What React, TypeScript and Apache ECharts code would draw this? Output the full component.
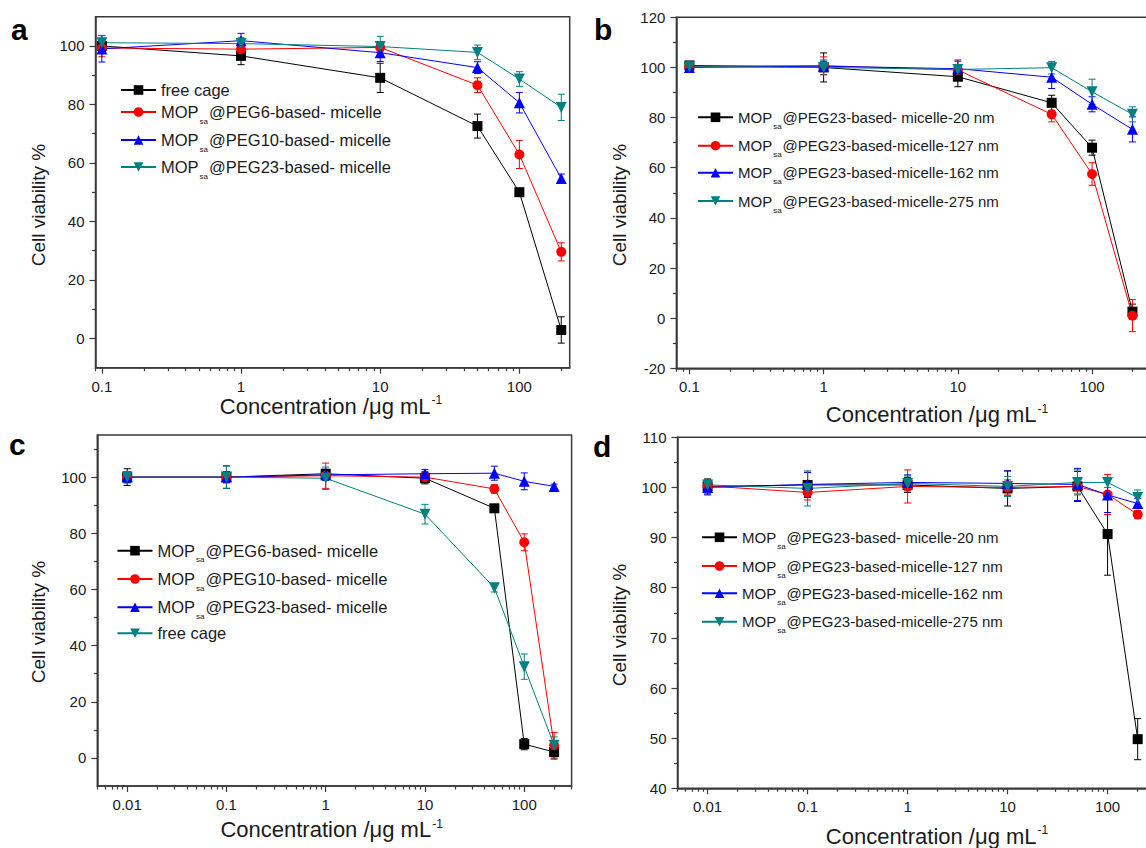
import React, { useEffect, useRef } from 'react';
import * as echarts from 'echarts';

const FONT = '"Liberation Sans", Arial, Helvetica, sans-serif';
const TXT = '#1a1a1a';
const AXIS = '#3a3a3a';

// Concentration steps, μg mL-1
const concAB = [0.1, 1, 10, 50, 100, 200];
const concCD = [0.01, 0.1, 1, 10, 50, 100, 200];

// Panel a
const namesA = ['free cage', 'MOPsa@PEG6-based- micelle', 'MOPsa@PEG10-based- micelle', 'MOPsa@PEG23-based- micelle'];
const aFreeCage = [100.0, 96.6, 89.1, 72.6, 50.0, 2.9];
const aFreeCageErr = [2.5, 3.0, 5.0, 4.1, 1.0, 4.5];
const aPeg6 = [99.3, 98.9, 99.5, 86.6, 62.9, 29.6];
const aPeg6Err = [3.0, 2.0, 1.5, 2.5, 4.8, 3.1];
const aPeg10 = [99.0, 101.8, 97.7, 92.6, 80.6, 54.7];
const aPeg10Err = [4.5, 2.5, 3.0, 2.0, 3.5, 1.5];
const aPeg23 = [101.1, 100.8, 99.8, 97.8, 88.7, 79.0];
const aPeg23Err = [2.5, 2.0, 3.5, 2.5, 2.5, 4.5];

// Panel b
const namesB = ['MOPsa@PEG23-based- micelle-20 nm', 'MOPsa@PEG23-based-micelle-127 nm', 'MOPsa@PEG23-based-micelle-162 nm', 'MOPsa@PEG23-based-micelle-275 nm'];
const b20 = [100.8, 100.0, 96.3, 85.9, 68.0, 2.6];
const b20Err = [1.0, 5.8, 4.0, 3.0, 3.0, 3.0];
const b127 = [100.5, 100.7, 99.0, 81.3, 57.5, 1.0];
const b127Err = [1.0, 3.5, 4.0, 3.0, 4.5, 6.4];
const b162 = [100.0, 100.5, 99.5, 96.1, 85.3, 75.3];
const b162Err = [2.0, 2.0, 3.0, 4.5, 3.0, 5.0];
const b275 = [100.3, 100.0, 99.2, 99.9, 90.3, 81.3];
const b275Err = [1.5, 3.0, 2.0, 2.5, 5.0, 3.0];

// Panel c
const namesC = ['MOPsa@PEG6-based- micelle', 'MOPsa@PEG10-based- micelle', 'MOPsa@PEG23-based- micelle', 'free cage'];
const cPeg6 = [100.0, 100.0, 101.2, 99.6, 88.9, 4.9, 2.1];
const cPeg6Err = [3.0, 4.0, 1.5, 2.0, 1.0, 2.0, 2.5];
const cPeg10 = [100.0, 100.0, 100.5, 100.0, 95.8, 76.8, 4.5];
const cPeg10Err = [2.0, 2.0, 4.5, 2.0, 1.5, 3.0, 4.5];
const cPeg23 = [100.0, 100.0, 100.8, 101.2, 101.4, 98.5, 96.7];
const cPeg23Err = [2.0, 2.0, 2.0, 1.5, 2.5, 3.0, 0.8];
const cFreeCage = [100.0, 100.0, 99.6, 86.8, 60.6, 32.5, 4.5];
const cFreeCageErr = [2.0, 4.0, 4.0, 3.5, 1.5, 4.5, 3.0];

// Panel d
const namesD = namesB;
const d20 = [100.2, 100.5, 100.5, 99.8, 100.2, 90.7, 49.8];
const d20Err = [1.5, 2.5, 1.5, 3.5, 3.0, 8.2, 4.1];
const d127 = [100.3, 99.0, 100.2, 100.0, 100.2, 98.6, 94.6];
const d127Err = [1.0, 1.5, 3.3, 1.5, 1.5, 4.0, 0.8];
const d162 = [100.0, 100.6, 101.0, 100.8, 100.6, 98.5, 96.8];
const d162Err = [1.5, 2.4, 1.5, 2.5, 3.2, 3.5, 1.0];
const d275 = [100.5, 99.8, 100.8, 100.2, 101.0, 101.0, 98.0];
const d275Err = [1.0, 3.5, 1.5, 2.0, 2.5, 1.0, 1.5];

// Y tick values
const yMajorA = [0, 20, 40, 60, 80, 100];
const yMinorA = [10, 30, 50, 70, 90];
const yMajorB = [-20, 0, 20, 40, 60, 80, 100, 120];
const yMinorB = [-10, 10, 30, 50, 70, 90, 110];
const yMajorC = [0, 20, 40, 60, 80, 100];
const yMinorC = [10, 30, 50, 70, 90, 110];
const yMajorD = [40, 50, 60, 70, 80, 90, 100, 110];
const yMinorD = [45, 55, 65, 75, 85, 95, 105];

// Marker style by series slot: square, circle, up triangle, down triangle
const MARKERS = [
  { color: '#000000', symbol: 'rect', size: 10, rotate: 0 },
  { color: '#ff0000', symbol: 'circle', size: 10, rotate: 0 },
  { color: '#0000ff', symbol: 'triangle', size: 11, rotate: 0 },
  { color: '#008080', symbol: 'triangle', size: 11, rotate: 180 },
];

function logTicks(min: number, max: number, mantissas: number[]) {
  const out: number[] = [];
  for (let e = -3; e <= 3; e++) {
    for (const m of mantissas) {
      const v = +(m * Math.pow(10, e)).toPrecision(6);
      if (v >= min && v <= max) out.push(v);
    }
  }
  return out;
}

function errorBars(conc: number[], vals: number[], errs: number[], color: string) {
  return {
    type: 'custom',
    xAxisIndex: 0,
    yAxisIndex: 0,
    silent: true,
    z: 2,
    data: conc.map((c, i) => [c, vals[i] - errs[i], vals[i] + errs[i]]),
    encode: { x: 0, y: [1, 2] },
    renderItem: (_params: any, api: any) => {
      const x = api.value(0);
      const top = api.coord([x, api.value(2)]);
      const bot = api.coord([x, api.value(1)]);
      const w = 3.5;
      const style = { stroke: color, lineWidth: 1, fill: 'none' };
      return {
        type: 'group',
        children: [
          { type: 'line', shape: { x1: top[0], y1: top[1], x2: bot[0], y2: bot[1] }, style },
          { type: 'line', shape: { x1: top[0] - w, y1: top[1], x2: top[0] + w, y2: top[1] }, style },
          { type: 'line', shape: { x1: bot[0] - w, y1: bot[1], x2: bot[0] + w, y2: bot[1] }, style },
        ],
      };
    },
  };
}

type PanelDef = {
  letter: string;
  grid: { left: number; top: number; width: number; height: number };
  xMin: number;
  xMax: number;
  yMin: number;
  yMax: number;
  yMajor: number[];
  yMinor: number[];
  conc: number[];
  names: string[];
  values: number[][];
  errors: number[][];
  legendLeft: number;
  legendRows: number[];
  legendFont: number;
  letterPos: [number, number];
  xTitlePos: [number, number];
  yTitlePos: [number, number];
};

const PANELS: PanelDef[] = [
  {
    letter: 'a',
    grid: { left: 95.5, top: 16.7, width: 474.2, height: 351 },
    xMin: 0.09, xMax: 230, yMin: -10, yMax: 110,
    yMajor: yMajorA, yMinor: yMinorA,
    conc: concAB, names: namesA,
    values: [aFreeCage, aPeg6, aPeg10, aPeg23],
    errors: [aFreeCageErr, aPeg6Err, aPeg10Err, aPeg23Err],
    legendLeft: 120, legendRows: [90, 112, 140, 167], legendFont: 16.5,
    letterPos: [11, 29.5], xTitlePos: [331, 406], yTitlePos: [38, 205],
  },
  {
    letter: 'b',
    grid: { left: 676.4, top: 17.3, width: 479.7, height: 351 },
    xMin: 0.08, xMax: 300, yMin: -20, yMax: 120,
    yMajor: yMajorB, yMinor: yMinorB,
    conc: concAB, names: namesB,
    values: [b20, b127, b162, b275],
    errors: [b20Err, b127Err, b162Err, b275Err],
    legendLeft: 697, legendRows: [117.3, 145.7, 172.7, 201], legendFont: 15,
    letterPos: [594, 29.5], xTitlePos: [937, 414.6], yTitlePos: [619, 205],
  },
  {
    letter: 'c',
    grid: { left: 97.3, top: 435, width: 474.3, height: 351 },
    xMin: 0.005, xMax: 300, yMin: -10, yMax: 115,
    yMajor: yMajorC, yMinor: yMinorC,
    conc: concCD, names: namesC,
    values: [cPeg6, cPeg10, cPeg23, cFreeCage],
    errors: [cPeg6Err, cPeg10Err, cPeg23Err, cFreeCageErr],
    legendLeft: 116.5, legendRows: [550.7, 579, 607.3, 633.3], legendFont: 16.5,
    letterPos: [9, 444.5], xTitlePos: [331.6, 829.6], yTitlePos: [38, 622],
  },
  {
    letter: 'd',
    grid: { left: 677.5, top: 437.3, width: 477.8, height: 351 },
    xMin: 0.005, xMax: 300, yMin: 40, yMax: 110,
    yMajor: yMajorD, yMinor: yMinorD,
    conc: concCD, names: namesD,
    values: [d20, d127, d162, d275],
    errors: [d20Err, d127Err, d162Err, d275Err],
    legendLeft: 701, legendRows: [537.3, 566, 593.3, 621.7], legendFont: 15,
    letterPos: [593, 446.5], xTitlePos: [937, 836], yTitlePos: [619, 625],
  },
];

// Legend rows: tall line box so the bottom-aligned "sa" sits below the baseline
const LEGEND_ITEM_H = 12;
const LEGEND_LINE_H = 26;

function buildOption(p: PanelDef) {
  const xMajor = logTicks(p.xMin, p.xMax, [1]);
  const xMinor = logTicks(p.xMin, p.xMax, [2, 3, 4, 5, 6, 7, 8, 9]);
  const axisLine = { show: true, onZero: false, lineStyle: { color: AXIS, width: 1.5 } };
  const tickStyle = { color: AXIS, width: 1.2 };
  const labelStyle = { fontSize: 15, fontFamily: FONT, color: TXT };

  const series: any[] = [];
  p.names.forEach((name, i) => {
    const m = MARKERS[i];
    series.push(errorBars(p.conc, p.values[i], p.errors[i], m.color));
    series.push({
      type: 'line',
      name,
      xAxisIndex: 0,
      yAxisIndex: 0,
      z: 3,
      data: p.conc.map((c, k) => [c, p.values[i][k]]),
      symbol: m.symbol,
      symbolSize: m.size,
      symbolRotate: m.rotate,
      showAllSymbol: true,
      lineStyle: { color: m.color, width: 1 },
      itemStyle: { color: m.color, borderWidth: 0 },
      emphasis: { disabled: true },
    });
  });

  const legend = p.names.map((name, i) => ({
    data: [name],
    orient: 'vertical',
    left: p.legendLeft,
    top: p.legendRows[i] - LEGEND_LINE_H / 2,
    padding: 0,
    itemGap: 0,
    itemWidth: 35,
    itemHeight: LEGEND_ITEM_H,
    align: 'left',
    selectedMode: false,
    formatter: (n: string) => n.replace('MOPsa@', 'MOP{sub|sa}@'),
    textStyle: {
      fontSize: p.legendFont,
      fontFamily: FONT,
      color: TXT,
      lineHeight: LEGEND_LINE_H,
      rich: {
        sub: {
          fontSize: 8,
          lineHeight: 8,
          fontFamily: FONT,
          color: TXT,
          verticalAlign: 'bottom',
          padding: [0, 1, 0, 1],
        },
      },
    },
  }));

  return {
    animation: false,
    grid: {
      ...p.grid,
      show: true,
      borderColor: AXIS,
      borderWidth: 1.5,
      backgroundColor: 'transparent',
      containLabel: false,
      outerBoundsMode: 'none',
    },
    xAxis: [
      {
        type: 'log',
        logBase: 10,
        min: p.xMin,
        max: p.xMax,
        position: 'bottom',
        axisLine,
        axisTick: { show: true, inside: false, length: 6, customValues: xMajor, lineStyle: tickStyle },
        axisLabel: {
          ...labelStyle,
          margin: 11,
          customValues: xMajor,
          formatter: (v: number) => String(+(+v).toPrecision(6)),
        },
        splitLine: { show: false },
      },
      {
        type: 'log',
        logBase: 10,
        min: p.xMin,
        max: p.xMax,
        position: 'bottom',
        axisLine: { show: false, onZero: false },
        axisTick: { show: true, inside: false, length: 3.5, customValues: xMinor, lineStyle: tickStyle },
        axisLabel: { show: false },
        splitLine: { show: false },
      },
    ],
    yAxis: [
      {
        type: 'value',
        min: p.yMin,
        max: p.yMax,
        position: 'left',
        axisLine,
        axisTick: { show: true, inside: false, length: 6, customValues: p.yMajor, lineStyle: tickStyle },
        axisLabel: { ...labelStyle, margin: 11, customValues: p.yMajor },
        splitLine: { show: false },
      },
      {
        type: 'value',
        min: p.yMin,
        max: p.yMax,
        position: 'left',
        axisLine: { show: false, onZero: false },
        axisTick: { show: true, inside: false, length: 3.5, customValues: p.yMinor, lineStyle: tickStyle },
        axisLabel: { show: false },
        splitLine: { show: false },
      },
    ],
    legend,
    series,
    graphic: [
      {
        type: 'text',
        x: p.letterPos[0],
        y: p.letterPos[1],
        style: {
          text: p.letter,
          align: 'left',
          verticalAlign: 'middle',
          fontSize: 30,
          fontWeight: 'bold',
          fontFamily: FONT,
          fill: '#000',
        },
      },
      {
        type: 'text',
        x: p.xTitlePos[0],
        y: p.xTitlePos[1],
        style: {
          text: 'Concentration /μg mL{sup|-1}',
          align: 'center',
          verticalAlign: 'middle',
          fontSize: 22,
          fontFamily: FONT,
          fill: TXT,
          lineHeight: 24,
          rich: {
            sup: { fontSize: 12, lineHeight: 12, fontFamily: FONT, fill: TXT, verticalAlign: 'top', padding: [0, 0, 19, 1] },
          },
        },
      },
      {
        type: 'text',
        x: p.yTitlePos[0],
        y: p.yTitlePos[1],
        rotation: Math.PI / 2,
        style: {
          text: 'Cell viability %',
          align: 'center',
          verticalAlign: 'middle',
          fontSize: 19,
          fontFamily: FONT,
          fill: TXT,
        },
      },
    ],
  };
}

const OPTIONS = PANELS.map(buildOption);

function ChartPanel({ option }: { option: any }) {
  const ref = useRef<HTMLDivElement>(null);
  useEffect(() => {
    if (!ref.current) return;
    const chart = echarts.init(ref.current, undefined, { renderer: 'svg' });
    chart.setOption(option);
    return () => chart.dispose();
  }, [option]);
  return <div ref={ref} style={{ position: 'absolute', left: 0, top: 0, width: 1200, height: 848 }} />;
}

export default function App() {
  return (
    <div
      style={{
        position: 'fixed',
        left: 0,
        top: 0,
        width: 1146,
        height: 848,
        overflow: 'hidden',
        background: '#ffffff',
      }}
    >
      {OPTIONS.map((opt, i) => (
        <ChartPanel key={i} option={opt} />
      ))}
    </div>
  );
}
